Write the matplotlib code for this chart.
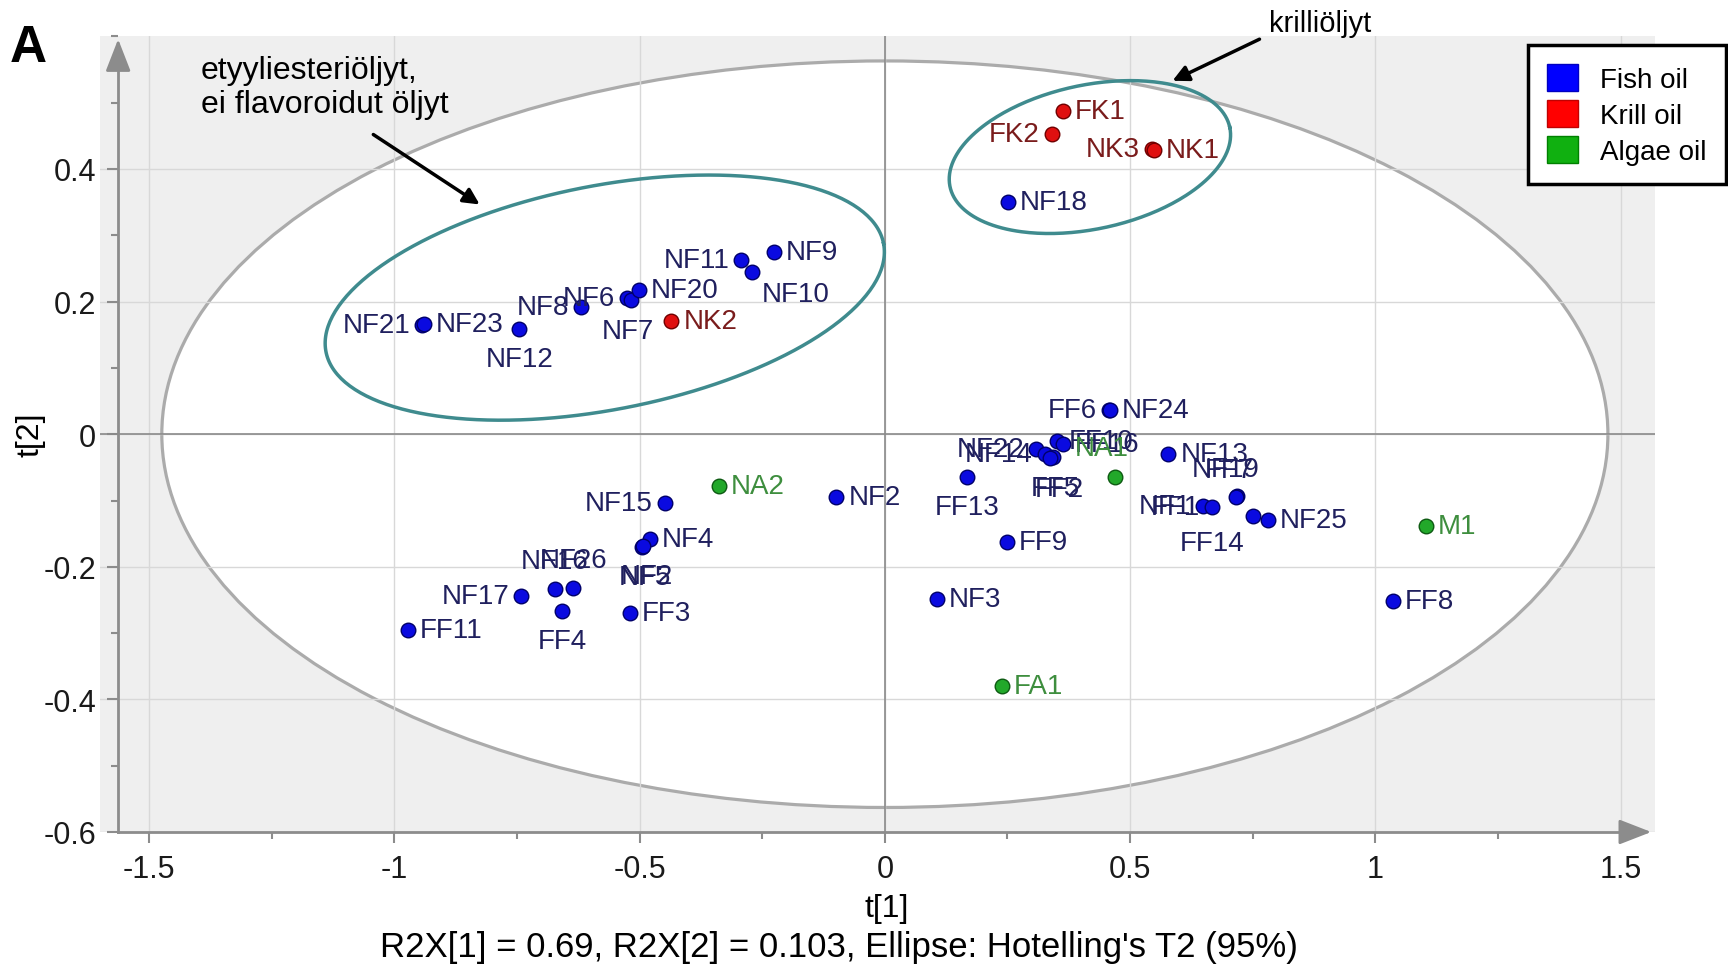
# PCA score plot (t[1] vs t[2]) of omega-3 oil samples

import numpy as np
import matplotlib.pyplot as plt
from matplotlib.patches import Ellipse, Patch
from matplotlib.ticker import MultipleLocator, FuncFormatter

plt.rcParams['font.family'] = ['Liberation Sans', 'DejaVu Sans']
plt.rcParams['axes.unicode_minus'] = False

# fish oil scores
fish_names = ['NF21', 'NF23', 'NF12', 'NF8', 'NF6', 'NF7', 'NF20', 'NF11', 'NF10',
              'NF9', 'NF18', 'FF6', 'NF24', 'NF22', 'NF14', 'FF10', 'FF16', 'FF5',
              'FF2', 'FF13', 'FF9', 'NF13', 'NF19', 'FF7', 'NF1', 'FF1', 'FF14',
              'NF25', 'NF2', 'NF15', 'NF4', 'NF5', 'NF2', 'NF16', 'NF26', 'NF17',
              'FF4', 'FF3', 'FF11', 'NF3', 'FF8']
fish_t1 = [-0.943, -0.939, -0.745, -0.620, -0.526, -0.518, -0.501, -0.293, -0.271,
           -0.227, 0.251, 0.457, 0.459, 0.309, 0.326, 0.350, 0.363, 0.343,
           0.336, 0.167, 0.248, 0.578, 0.717, 0.715, 0.649, 0.666, 0.751,
           0.781, -0.099, -0.448, -0.479, -0.496, -0.494, -0.673, -0.635, -0.741,
           -0.658, -0.520, -0.972, 0.106, 1.036]
fish_t2 = [0.165, 0.166, 0.158, 0.192, 0.205, 0.203, 0.218, 0.262, 0.244,
           0.275, 0.350, 0.036, 0.037, -0.022, -0.030, -0.010, -0.015, -0.035,
           -0.036, -0.065, -0.163, -0.030, -0.093, -0.095, -0.108, -0.110, -0.123,
           -0.130, -0.095, -0.104, -0.158, -0.170, -0.169, -0.234, -0.232, -0.244,
           -0.266, -0.269, -0.296, -0.249, -0.252]

# krill oil scores
krill_names = ['FK1', 'FK2', 'NK3', 'NK1', 'NK2']
krill_t1 = [0.363, 0.340, 0.545, 0.549, -0.435]
krill_t2 = [0.488, 0.453, 0.430, 0.429, 0.170]

# algae oil scores
algae_names = ['NA2', 'NA1', 'M1', 'FA1']
algae_t1 = [-0.338, 0.469, 1.103, 0.238]
algae_t2 = [-0.078, -0.065, -0.138, -0.380]

# Hotelling T2 (95%) ellipse semi-axes
hot_a, hot_b = 1.474, 0.563

# label placement (offset in pixels, horizontal alignment)
R = (12, 0, 'left')
L = (-12, 0, 'right')
B = (0, -30, 'center')
T = (0, 28, 'center')
fish_place = [L, R, B, L, L, (-3, -31, 'center'), R, L, (44, -22, 'center'),
              R, R, L, R, L, L, R, R, (2, -31, 'center'),
              (10, -31, 'center'), B, R, R, (-11, 27, 'center'), (-6, 27, 'center'), L, L, (-41, -27, 'center'),
              R, R, L, R, (3, -30, 'center'), (4, -30, 'center'), T, T, L,
              B, R, R, R, R]
krill_place = [R, L, L, R, R]
algae_place = [R, (-13, 29, 'center'), R, R]

groups = [
    (fish_names, fish_t1, fish_t2, fish_place, '#0a0ae0', '#00006a', '#20205e'),
    (krill_names, krill_t1, krill_t2, krill_place, '#e01010', '#700000', '#7a1c1c'),
    (algae_names, algae_t1, algae_t2, algae_place, '#22a82a', '#0d5a12', '#3e8e3e'),
]

fig = plt.figure(figsize=(17.28, 9.70), dpi=100)
ax = fig.add_axes([100 / 1728, 137 / 970, 1555 / 1728, 795.6 / 970])
ax.set_xlim(-1.6, 1.57)
ax.set_ylim(-0.6, 0.6)
ax.set_facecolor('#efefef')
ax.set_axisbelow(True)

SX = 1555 / 3.17   # pixels per unit of t[1]
SY = 795.6 / 1.2   # pixels per unit of t[2]

# white Hotelling ellipse
ax.add_patch(Ellipse((0, 0), 2 * hot_a, 2 * hot_b, facecolor='white',
                     edgecolor='#ababab', lw=2.3, zorder=0.3))

ax.grid(which='major', color='#d8d8d8', lw=1)
ax.axhline(0, color='#8a8a8a', lw=1.2, zorder=0.6)
ax.axvline(0, color='#8a8a8a', lw=1.2, zorder=0.6)

# axes look
axcol = '#8c8c8c'
for s in ['top', 'right']:
    ax.spines[s].set_visible(False)
ax.spines['left'].set_position(('data', -1.563))
ax.spines['left'].set_bounds(-0.6, 0.57)
ax.spines['bottom'].set_bounds(-1.563, 1.54)
for s in ['left', 'bottom']:
    ax.spines[s].set_color(axcol)
    ax.spines[s].set_linewidth(2)
ax.annotate('', xy=(-1.563, 0.6), xytext=(-1.563, 0.55),
            arrowprops=dict(arrowstyle='-|>,head_length=0.9,head_width=0.35',
                            color=axcol, lw=2, mutation_scale=22), annotation_clip=False)
ax.annotate('', xy=(1.568, -0.6), xytext=(1.5, -0.6),
            arrowprops=dict(arrowstyle='-|>,head_length=0.9,head_width=0.35',
                            color=axcol, lw=2, mutation_scale=22), annotation_clip=False)

ax.set_xticks([-1.5, -1, -0.5, 0, 0.5, 1, 1.5])
ax.xaxis.set_minor_locator(MultipleLocator(0.25))
ax.set_yticks([-0.6, -0.4, -0.2, 0, 0.2, 0.4])
ax.yaxis.set_minor_locator(MultipleLocator(0.1))
fmt = FuncFormatter(lambda v, p: '%g' % round(v, 3))
ax.xaxis.set_major_formatter(fmt)
ax.yaxis.set_major_formatter(fmt)
ax.tick_params(which='both', color=axcol, width=1.5, labelcolor='#1a1a1a', labelsize=22)
ax.tick_params(which='major', length=8, pad=8)
ax.tick_params(which='minor', length=5)

# scores and labels
for names, t1, t2, place, fc, ec, tc in groups:
    ax.scatter(t1, t2, s=110, color=fc, edgecolors=ec, linewidths=1, zorder=4)
    for nm, x, y, (dx, dy, ha) in zip(names, t1, t2, place):
        ax.annotate(nm, (x, y), xytext=(dx, dy), textcoords='offset pixels',
                    ha=ha, va='center', fontsize=20, color=tc, zorder=5)


def tilted_ellipse(cx, cy, a_px, b_px, ang):
    t = np.linspace(0, 2 * np.pi, 300)
    th = np.deg2rad(ang)
    dx = a_px * np.cos(t) * np.cos(th) - b_px * np.sin(t) * np.sin(th)
    dy = a_px * np.cos(t) * np.sin(th) + b_px * np.sin(t) * np.cos(th)
    return cx + dx / SX, cy + dy / SY


ex, ey = tilted_ellipse(-0.571, 0.206, 284, 112, 11)
ax.plot(ex, ey, color='#3f8b8e', lw=2.5, zorder=3)
ex, ey = tilted_ellipse(0.418, 0.418, 143, 72, 12)
ax.plot(ex, ey, color='#3f8b8e', lw=2.5, zorder=3)

# annotations
fig.text(201 / 1728, 1 - 88 / 970, 'etyyliesteriöljyt,\nei flavoroidut öljyt',
         fontsize=23, va='center', ha='left', linespacing=1.2)
fig.text(1269 / 1728, 1 - 24 / 970, 'krilliöljyt', fontsize=21, va='center', ha='left')
ax.annotate('', xy=(482, 763), xycoords='figure pixels', xytext=(371, 836),
            textcoords='figure pixels',
            arrowprops=dict(arrowstyle='-|>', color='black', lw=2.5, mutation_scale=24))
ax.annotate('', xy=(1170, 887), xycoords='figure pixels', xytext=(1262, 931),
            textcoords='figure pixels',
            arrowprops=dict(arrowstyle='-|>', color='black', lw=2.5, mutation_scale=24))

fig.text(28 / 1728, 1 - 48 / 970, 'A', fontsize=37, fontweight='bold', ha='center', va='center')

fig.text(31 / 1728, 1 - 435 / 970, 't[2]', fontsize=23, rotation=90, ha='center', va='center')
fig.text(887 / 1728, 1 - 909 / 970, 't[1]', fontsize=23, ha='center', va='center')
fig.text(839 / 1728, 1 - 948 / 970,
         "R2X[1] = 0.69, R2X[2] = 0.103, Ellipse: Hotelling's T2 (95%)",
         fontsize=25, ha='center', va='center')

handles = [Patch(facecolor='#0000ff', edgecolor='#0000c0', label='Fish oil'),
           Patch(facecolor='#ff0000', edgecolor='#c00000', label='Krill oil'),
           Patch(facecolor='#10b010', edgecolor='#008000', label='Algae oil')]
leg = fig.legend(handles=handles, loc='upper right', bbox_to_anchor=(1726 / 1728, 1 - 46 / 970),
                 fontsize=20, fancybox=False, edgecolor='black', framealpha=1,
                 handlelength=1.1, handleheight=1.1, handletextpad=0.8,
                 labelspacing=0.25, borderpad=0.7, borderaxespad=0)
leg.get_frame().set_linewidth(2.5)

plt.savefig('out.png', dpi=100)
